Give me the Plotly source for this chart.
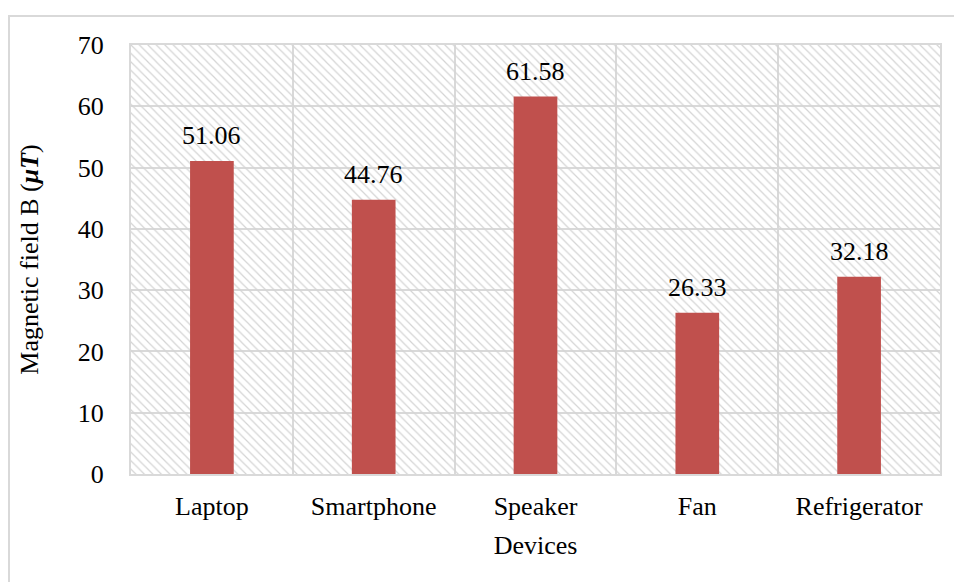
import plotly.graph_objects as go

devices = ["Laptop", "Smartphone", "Speaker", "Fan", "Refrigerator"]
field_uT = [51.06, 44.76, 61.58, 26.33, 32.18]
value_labels = ["51.06", "44.76", "61.58", "26.33", "32.18"]
y_ticks = [0, 10, 20, 30, 40, 50, 60, 70]
Y_MAX = 70

FONT = "Liberation Serif, Times New Roman, serif"
GRID = "#D9D9D9"
BAR = "#C0504D"
FS = 26

fig = go.Figure()

# hatched plot-area background, spanning every category up to the axis max
fig.add_trace(go.Bar(
    x=devices, y=[Y_MAX] * len(devices), width=1,
    marker=dict(color="rgba(0,0,0,0)", line=dict(width=0),
                pattern=dict(shape="\\", fgcolor="#D4D4D4", bgcolor="rgba(0,0,0,0)",
                             fillmode="replace", size=6, solidity=0.2)),
    hoverinfo="skip", showlegend=False,
))

fig.add_trace(go.Bar(
    x=devices, y=field_uT, width=0.27,
    marker=dict(color=BAR, line=dict(width=0)),
    showlegend=False,
))

for d, v, lab in zip(devices, field_uT, value_labels):
    fig.add_annotation(x=d, y=v, text=lab, showarrow=False,
                       xref="x", yref="y", yanchor="bottom", yshift=9,
                       font=dict(family=FONT, size=FS, color="#000000"))

L, R, T, B = 131, 14, 45, 108
W, H = 954, 582
pw, ph = W - L - R, H - T - B

fig.update_layout(
    width=W, height=H,
    margin=dict(l=L, r=R, t=T, b=B, pad=0),
    barmode="overlay",
    paper_bgcolor="white", plot_bgcolor="white",
    font=dict(family=FONT, size=FS, color="#000000"),
    showlegend=False,
)

fig.update_xaxes(
    range=[-0.5, len(devices) - 0.5],
    tickson="boundaries", showgrid=True, gridcolor=GRID, gridwidth=1.5,
    showline=True, linecolor=GRID, linewidth=2, mirror=True,
    ticks="", ticklabelstandoff=8,
    tickfont=dict(family=FONT, size=FS),
    title=dict(text="Devices", font=dict(family=FONT, size=FS), standoff=16),
)

fig.update_yaxes(
    range=[0, Y_MAX], tickvals=y_ticks,
    showgrid=True, gridcolor=GRID, gridwidth=1.5,
    showline=True, linecolor=GRID, linewidth=2, mirror=True,
    zeroline=False, ticks="", ticklabelstandoff=20,
    tickfont=dict(family=FONT, size=FS),
    title=dict(text="Magnetic field B (<b><i>μT</i></b>)",
               font=dict(family=FONT, size=FS), standoff=32),
)

# outer chart border (light grey frame)
x0 = (9 - L) / pw
x1 = (W + 5 - L) / pw
y1 = (H - B - 16) / ph
y0 = (H - B - (H + 10)) / ph
fig.add_shape(type="rect", xref="paper", yref="paper",
              x0=x0, x1=x1, y0=y0, y1=y1,
              line=dict(color=GRID, width=2), fillcolor="rgba(0,0,0,0)", layer="below")

fig.write_html("out.html")
